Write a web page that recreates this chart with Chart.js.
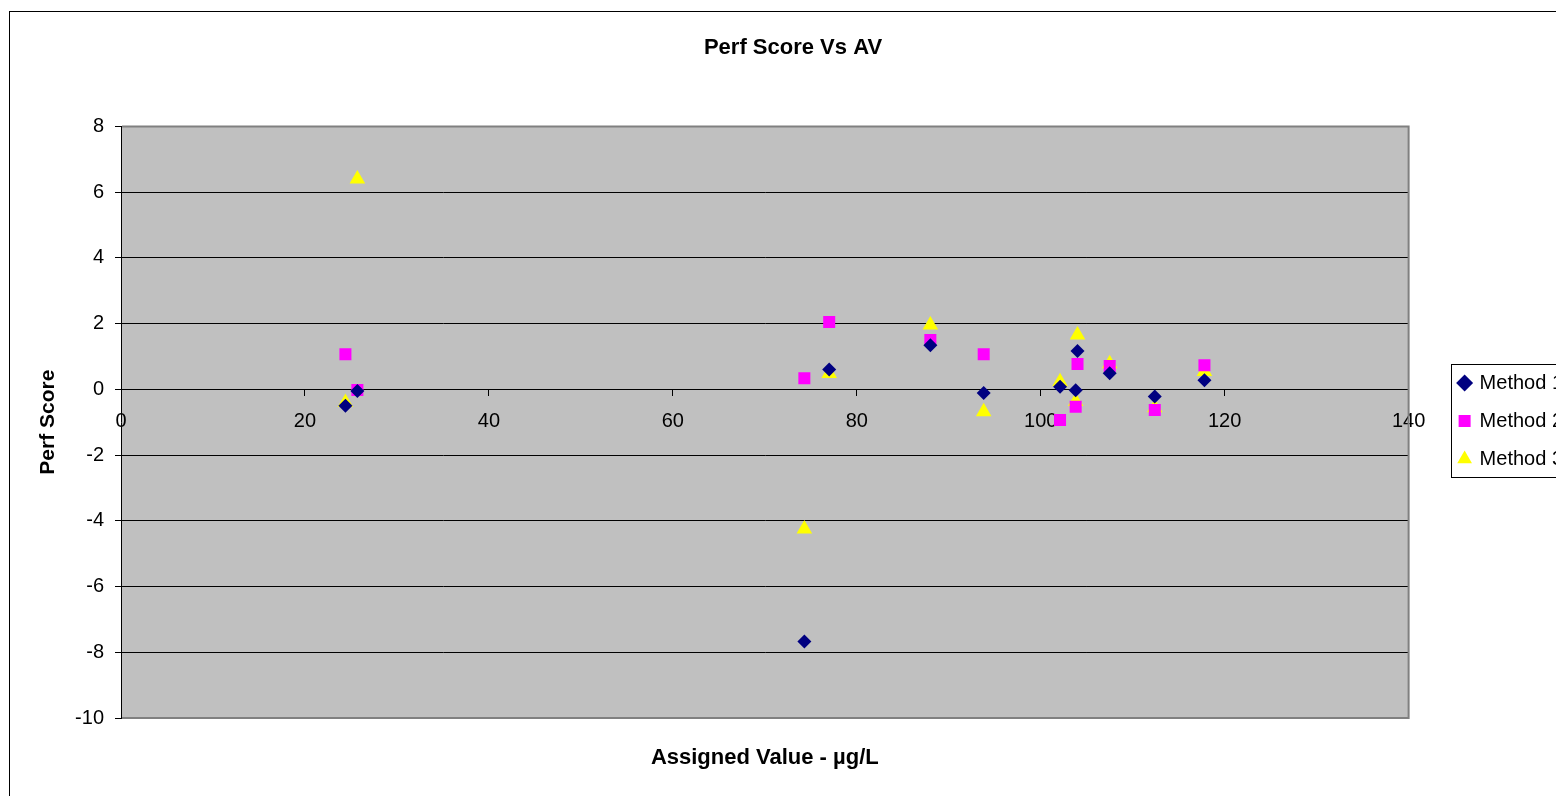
<!DOCTYPE html>
<html>
<head>
<meta charset="utf-8">
<script src="https://cdn.jsdelivr.net/npm/chart.js@4"></script>
<style>
  html, body { margin: 0; padding: 0; background: #fff; overflow: hidden; }
  #frame { position: absolute; left: 9px; top: 11px; width: 1600px; height: 900px; border: 1px solid #000; }
  #c { position: absolute; left: 0; top: 0; }
</style>
</head>
<body>
<div id="frame"></div>
<canvas id="c" width="1573" height="842"></canvas>
<script>
// assigned values (x) shared by the three methods
const assigned = [24.4, 25.7, 74.3, 77.0, 88.0, 93.8, 102.1, 103.8, 104.0, 107.5, 112.4, 117.8];
const method1 = [-0.5, -0.05, -7.67, 0.6, 1.34, -0.11, 0.08, -0.03, 1.17, 0.49, -0.22, 0.28];
const method2 = [1.07, -0.02, 0.34, 2.05, 1.5, 1.07, -0.93, -0.53, 0.77, 0.71, -0.63, 0.73];
const method3 = [-0.4, 6.4, -4.25, 0.48, 1.96, -0.68, 0.23, -0.37, 1.65, 0.78, -0.56, 0.54];

const seriesNames = ["Method 1", "Method 2", "Method 3"];
const xTicks = [0, 20, 40, 60, 80, 100, 120, 140];
const yTicks = [-10, -8, -6, -4, -2, 0, 2, 4, 6, 8];

Chart.defaults.font.family = "'Liberation Sans', Arial, sans-serif";
Chart.defaults.color = "#000";

var toPoints = (ys) => ys.map((y, i) => ({x: assigned[i], y: y}));

// grey plot background + grey border on top/right/bottom, legend outline
const plotDecor = {
	id: 'plotDecor',
	beforeDraw(chart) {
		const {ctx, chartArea: a} = chart;
		ctx.save();
		ctx.fillStyle = '#C0C0C0';
		ctx.fillRect(a.left, a.top, a.right - a.left, a.bottom - a.top);
		ctx.restore();
	},
	beforeDatasetsDraw(chart) {
		const {ctx, chartArea: a} = chart;
		ctx.save();
		ctx.strokeStyle = '#808080';
		ctx.lineWidth = 2;
		ctx.beginPath();
		ctx.moveTo(a.left + 1, a.top);
		ctx.lineTo(a.right, a.top);
		ctx.lineTo(a.right, a.bottom);
		ctx.lineTo(a.left + 1, a.bottom);
		ctx.stroke();
		ctx.restore();
	},
	afterDraw(chart) {
		const lg = chart.legend;
		if (!lg || !lg.legendHitBoxes.length) return;
		const hb = lg.legendHitBoxes;
		const first = hb[0], last = hb[hb.length - 1];
		const ctx = chart.ctx;
		ctx.save();
		ctx.strokeStyle = '#000';
		ctx.lineWidth = 1;
		ctx.strokeRect(Math.round(first.left - 9) + 0.5, Math.round(first.top - 9) + 0.5,
			chart.width, Math.round(last.top + last.height + 8 - (first.top - 9)));
		ctx.restore();
	}
};

new Chart(document.getElementById('c'), {
	type: 'scatter',
	data: {
		datasets: [
			{
				label: seriesNames[0],
				data: toPoints(method1),
				pointStyle: 'rectRot',
				pointRadius: 7,
				backgroundColor: '#000080',
				borderColor: '#000080',
				borderWidth: 0
			},
			{
				label: seriesNames[1],
				data: toPoints(method2),
				pointStyle: 'rect',
				pointRadius: 8.5,
				backgroundColor: '#FF00FF',
				borderColor: '#FF00FF',
				borderWidth: 0
			},
			{
				label: seriesNames[2],
				data: toPoints(method3),
				pointStyle: 'triangle',
				pointRadius: 9,
				backgroundColor: '#FFFF00',
				borderColor: '#FFFF00',
				borderWidth: 0
			}
		]
	},
	options: {
		responsive: false,
		animation: false,
		layout: {padding: {left: 13, right: 0, top: 0, bottom: 0}},
		plugins: {
			title: {
				display: true,
				text: 'Perf Score Vs AV',
				color: '#000',
				font: {size: 22, weight: 'bold'},
				padding: {top: 35, bottom: 65}
			},
			legend: {
				position: 'right',
				labels: {
					usePointStyle: true,
					boxWidth: 10,
					boxHeight: 12,
					padding: 18,
					color: '#000',
					font: {size: 20}
				}
			},
			tooltip: {enabled: false}
		},
		scales: {
			x: {
				type: 'linear',
				position: {y: 0},
				min: xTicks[0],
				max: xTicks[xTicks.length - 1],
				afterBuildTicks: (s) => { s.ticks = xTicks.map(v => ({value: v})); },
				ticks: {font: {size: 20}, color: '#000', padding: 14},
				grid: {drawOnChartArea: false, drawTicks: true, tickLength: 6, color: '#000'},
				border: {color: '#000', width: 1}
			},
			x2: {
				type: 'linear',
				axis: 'x',
				position: 'bottom',
				min: xTicks[0],
				max: xTicks[xTicks.length - 1],
				ticks: {display: false},
				grid: {display: false, drawTicks: false},
				border: {display: false},
				title: {
					display: true,
					text: 'Assigned Value - µg/L',
					color: '#000',
					font: {size: 22, weight: 'bold'},
					padding: {top: 0, bottom: 71}
				},
				afterFit: (s) => { s.height = 124; }
			},
			y: {
				type: 'linear',
				position: 'left',
				min: yTicks[0],
				max: yTicks[yTicks.length - 1],
				afterBuildTicks: (s) => { s.ticks = yTicks.map(v => ({value: v})); },
				ticks: {font: {size: 20}, color: '#000', padding: 11},
				grid: {color: '#000', lineWidth: 1, tickLength: 6},
				border: {color: '#000', width: 1},
				title: {
					display: true,
					text: 'Perf Score',
					color: '#000',
					font: {size: 21, weight: 'bold'},
					padding: {top: 23, bottom: 0}
				},
				afterFit: (s) => { s.width = 108; }
			},
			yR: {
				type: 'linear',
				axis: 'y',
				position: 'right',
				min: yTicks[0],
				max: yTicks[yTicks.length - 1],
				ticks: {display: false},
				grid: {display: false, drawTicks: false},
				border: {display: false},
				afterFit: (s) => { s.width = 33; }
			}
		}
	},
	plugins: [plotDecor]
});
</script>
</body>
</html>
